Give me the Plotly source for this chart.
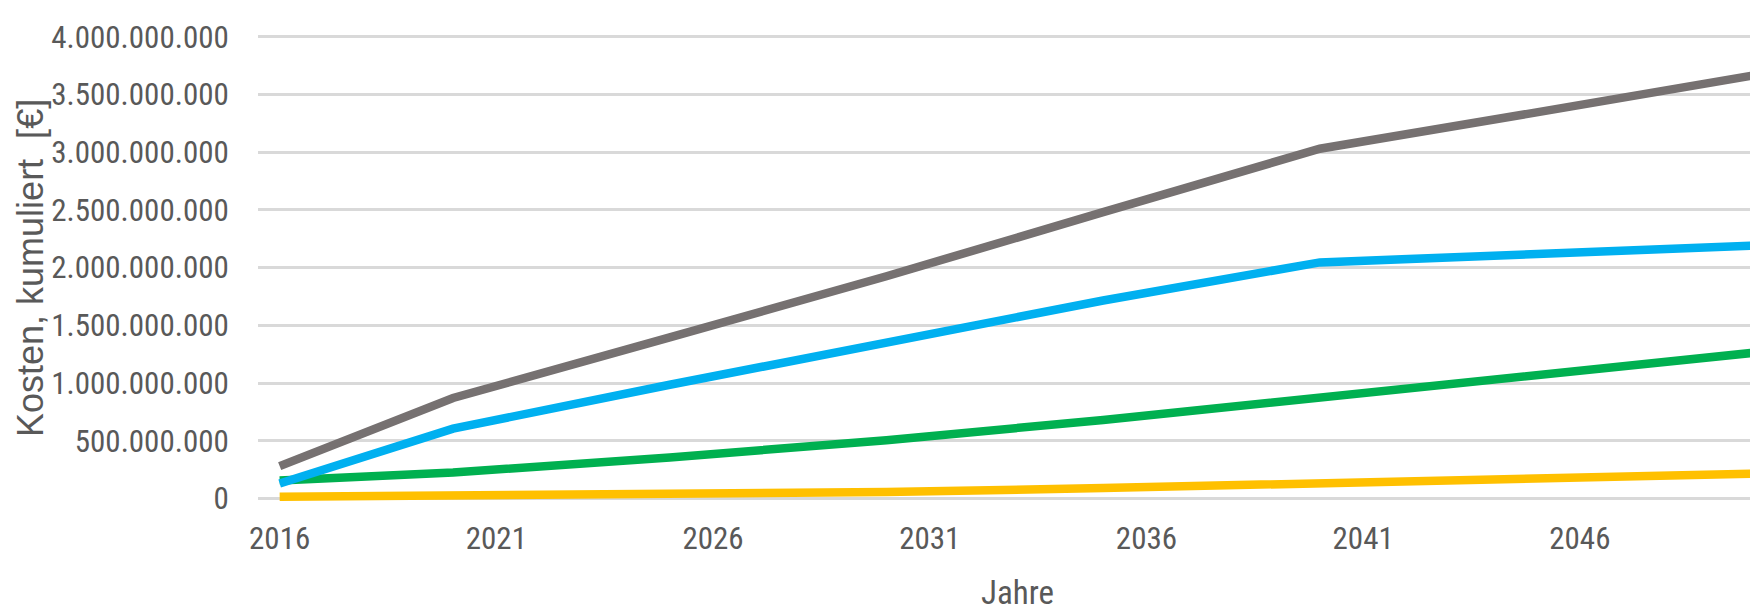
import plotly.graph_objects as go

years = [2016, 2020, 2025, 2030, 2035, 2040, 2045, 2050]
gray_vals = [280e6, 870e6, 1395e6, 1925e6, 2480e6, 3030e6, 3345e6, 3665e6]
blue_vals = [130e6, 605e6, 985e6, 1355e6, 1715e6, 2045e6, 2118e6, 2190e6]
green_vals = [155e6, 225e6, 355e6, 505e6, 680e6, 880e6, 1065e6, 1262e6]
yellow_vals = [15e6, 22e6, 33e6, 55e6, 90e6, 133e6, 173e6, 214e6]

x_ticks = [2016, 2021, 2026, 2031, 2036, 2041, 2046]
y_ticks = [0, 500e6, 1000e6, 1500e6, 2000e6, 2500e6, 3000e6, 3500e6, 4000e6]

y_title = "Kosten, kumuliert\u00a0 [€]"
x_title = "Jahre"

NARROW = "Liberation Sans Narrow, Arial Narrow, Roboto Condensed, Liberation Sans, sans-serif"
TXT = "#595959"

fig = go.Figure()
series = [
    (gray_vals, "#767171"),
    (green_vals, "#00B050"),
    (blue_vals, "#00B0F0"),
    (yellow_vals, "#FFC000"),
]
for vals, col in series:
    fig.add_trace(go.Scatter(x=years, y=vals, mode="lines",
                             line=dict(color=col, width=8.5),
                             showlegend=False, hoverinfo="skip"))

W, H = 1758, 609
L, R, T, B = 250, 0, 23, 107
fig.update_layout(
    width=W, height=H,
    margin=dict(l=L, r=R, t=T, b=B, pad=0, autoexpand=False),
    paper_bgcolor="white", plot_bgcolor="white",
    separators=",.",
    font=dict(family=NARROW, color=TXT, size=31),
)
fig.update_xaxes(
    range=[2015.5, 2015.5 + (W - L - R) / 43.34],
    tickmode="array", tickvals=x_ticks, ticktext=[str(v) for v in x_ticks],
    showgrid=False, zeroline=False, showline=False, automargin=False,
    ticks="outside", ticklen=1, tickcolor="rgba(0,0,0,0)",
    tickfont=dict(family=NARROW, size=31, color=TXT),
)
fig.update_yaxes(
    range=[-0.1e9, 4.0497e9],
    tickmode="array", tickvals=y_ticks,
    tickformat=",d",
    showgrid=True, gridcolor="#D9D9D9", gridwidth=2.5,
    zeroline=False, showline=False, automargin=False,
    ticks="outside", ticklen=22, tickcolor="rgba(0,0,0,0)",
    tickfont=dict(family=NARROW, size=31, color=TXT),
)

ph = H - T - B
pw = W - L - R
fig.add_annotation(text=y_title, xref="paper", yref="paper",
                   x=(22 - L) / pw, y=(H - B - 260) / ph,
                   xanchor="center", yanchor="middle", textangle=-90,
                   showarrow=False,
                   font=dict(family="Liberation Sans, Arial, sans-serif", size=36, color=TXT))
fig.add_annotation(text=x_title, xref="paper", yref="paper",
                   x=(1009 - L) / pw, y=(H - B - 584) / ph,
                   xanchor="center", yanchor="middle",
                   showarrow=False,
                   font=dict(family=NARROW, size=33, color=TXT))

fig.write_html("out.html")
